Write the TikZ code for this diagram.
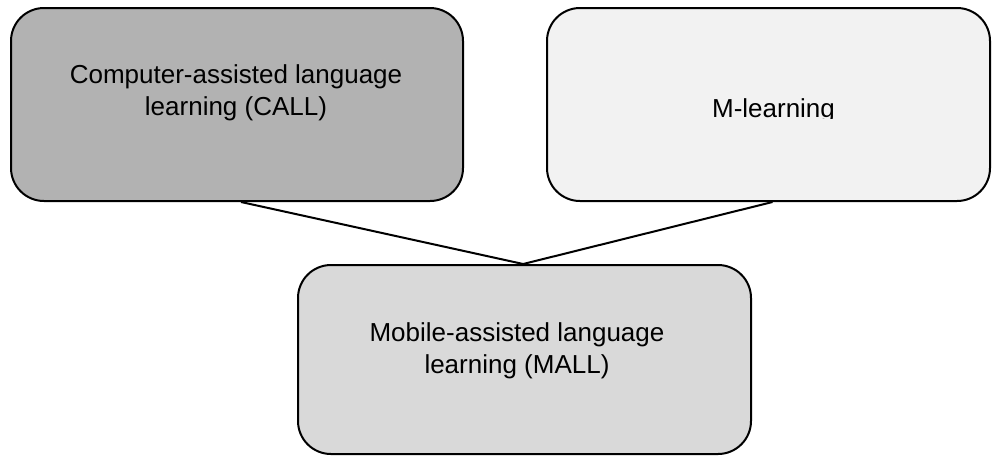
\documentclass[tikz,border=0pt]{standalone}
\usepackage{fontspec}
\setmainfont{Liberation Sans}
\begin{document}
\begin{tikzpicture}[x=0.75pt,y=-0.75pt,
  box/.style={draw=black, line width=1.5pt, rounded corners=24.75pt, inner sep=0pt},
  lbl/.style={font=\fontsize{19.5}{23.5}\selectfont, align=center, inner sep=0pt, anchor=base},
  link/.style={draw=black, line width=1.5pt}]
\useasboundingbox (0,0) rectangle (992,455);
\node[box, fill=black!30, minimum width=339pt, minimum height=144.75pt] (call) at (237,104.5) {};
\node[box, fill=black!5, minimum width=332.25pt, minimum height=144.75pt] (mlearn) at (768.5,104.5) {};
\node[box, fill=black!15, minimum width=339.75pt, minimum height=141.75pt] (mall) at (524.5,359.5) {};
\draw[link] ([xshift=3pt]call.south) -- ([xshift=-1pt]mall.north);
\draw[link] ([xshift=3pt]mlearn.south) -- ([xshift=-1pt]mall.north);
\node[lbl] (calltxt) at (236,115) {Computer-assisted language\\learning (CALL)};
\begin{scope}
\clip (547,8) rectangle (990,118.5);
\node[lbl] (mtxt) at (773.5,117) {M-learning};
\end{scope}
\node[lbl] (malltxt) at (517,373) {Mobile-assisted language\\learning (MALL)};
\end{tikzpicture}
\end{document}
